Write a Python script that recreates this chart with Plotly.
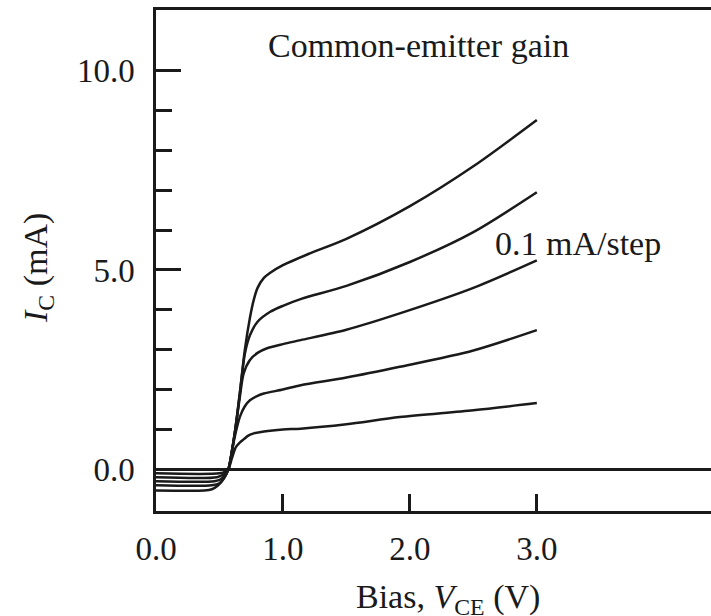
import plotly.graph_objects as go

# ---- data (V_CE in volts, I_C in mA) ----
v_a = [0, 0.38, 0.44, 0.49, 0.53, 0.57, 0.62, 0.66, 0.70, 0.74, 0.77, 0.80, 0.85, 0.90, 1.0, 1.2, 1.5, 2.0, 2.5, 3.0]
i_a = [-0.53, -0.53, -0.50, -0.40, -0.25, 0.0, 0.9, 1.9, 3.0, 3.8, 4.25, 4.55, 4.8, 4.93, 5.12, 5.4, 5.78, 6.6, 7.6, 8.76]

v_b = [0, 0.44, 0.50, 0.54, 0.57, 0.62, 0.66, 0.70, 0.74, 0.80, 0.90, 1.0, 1.15, 1.5, 2.0, 2.5, 3.0]
i_b = [-0.40, -0.40, -0.35, -0.20, 0.0, 0.9, 1.9, 2.9, 3.36, 3.7, 3.95, 4.1, 4.28, 4.6, 5.2, 5.95, 6.95]

v_c = [0, 0.46, 0.51, 0.55, 0.57, 0.62, 0.66, 0.69, 0.74, 0.80, 0.87, 1.0, 1.14, 1.5, 1.92, 2.5, 3.0]
i_c = [-0.30, -0.30, -0.25, -0.12, 0.0, 0.9, 1.8, 2.4, 2.74, 2.92, 3.03, 3.14, 3.24, 3.5, 3.91, 4.55, 5.24]

v_d = [0, 0.48, 0.53, 0.57, 0.60, 0.63, 0.66, 0.70, 0.74, 0.80, 0.85, 1.0, 1.14, 1.5, 1.92, 2.5, 3.0]
i_d = [-0.20, -0.20, -0.13, 0.0, 0.5, 0.95, 1.31, 1.58, 1.73, 1.84, 1.90, 2.0, 2.11, 2.3, 2.57, 2.98, 3.49]

v_e = [0, 0.50, 0.55, 0.57, 0.60, 0.63, 0.66, 0.69, 0.73, 0.77, 0.85, 1.0, 1.14, 1.5, 1.92, 2.5, 3.0]
i_e = [-0.10, -0.10, -0.05, 0.0, 0.3, 0.56, 0.67, 0.75, 0.85, 0.90, 0.95, 1.0, 1.02, 1.13, 1.31, 1.48, 1.66]

x_tick_vals = [0, 1, 2, 3]
x_tick_text = ["0.0", "1.0", "2.0", "3.0"]
y_tick_vals = [0, 5, 10]
y_tick_text = ["0.0", "5.0", "10.0"]
y_minor_vals = [1, 2, 3, 4, 6, 7, 8, 9]

FONT = "Times New Roman, Liberation Serif, serif"
INK = "#1a1a1a"

fig = go.Figure()
for vs, cs in [(v_e, i_e), (v_d, i_d), (v_c, i_c), (v_b, i_b), (v_a, i_a)]:
    fig.add_trace(go.Scatter(
        x=vs, y=cs, mode="lines",
        line=dict(color=INK, width=2.5, shape="spline", smoothing=0.8),
        showlegend=False, hoverinfo="skip",
    ))

fig.update_layout(
    width=711, height=616,
    margin=dict(l=156, r=0, t=10, b=105),
    paper_bgcolor="white", plot_bgcolor="white",
    font=dict(family=FONT, size=33, color=INK),
    xaxis=dict(
        range=[0, 4.372], showgrid=False, zeroline=False,
        showline=True, linecolor=INK, linewidth=2.5, mirror=True,
        ticks="inside", ticklen=17, tickwidth=2.5, tickcolor=INK,
        tickvals=x_tick_vals, ticktext=x_tick_text,
        tickfont=dict(family=FONT, size=33, color=INK),
        ticklabelstandoff=7,
    ),
    yaxis=dict(
        range=[-1.046, 11.52], showgrid=False,
        zeroline=True, zerolinecolor=INK, zerolinewidth=2.5,
        showline=True, linecolor=INK, linewidth=2.5,
        ticks="inside", ticklen=25, tickwidth=2.5, tickcolor=INK,
        tickvals=y_tick_vals, ticktext=y_tick_text,
        tickfont=dict(family=FONT, size=33, color=INK),
        ticklabelstandoff=12,
        minor=dict(tickvals=y_minor_vals, ticks="inside", ticklen=16,
                   tickwidth=2.5, tickcolor=INK, showgrid=False),
    ),
    annotations=[
        dict(text="Common-emitter gain", x=2.065, y=10.63, xref="x", yref="y",
             xanchor="center", yanchor="middle", showarrow=False,
             font=dict(family=FONT, size=34, color=INK)),
        dict(text="0.1 mA/step", x=3.325, y=5.67, xref="x", yref="y",
             xanchor="center", yanchor="middle", showarrow=False,
             font=dict(family=FONT, size=34, color=INK)),
        dict(text="<i>I</i><sub>C</sub> (mA)", x=-0.2126, y=0.485,
             xref="paper", yref="paper", textangle=-90, showarrow=False,
             xanchor="center", yanchor="middle",
             font=dict(family=FONT, size=34, color=INK)),
        dict(text="Bias, <i>V</i><sub>CE</sub> (V)", x=0.526, y=-0.176,
             xref="paper", yref="paper", showarrow=False,
             xanchor="center", yanchor="middle",
             font=dict(family=FONT, size=34, color=INK)),
    ],
)

fig.write_html("out.html")
